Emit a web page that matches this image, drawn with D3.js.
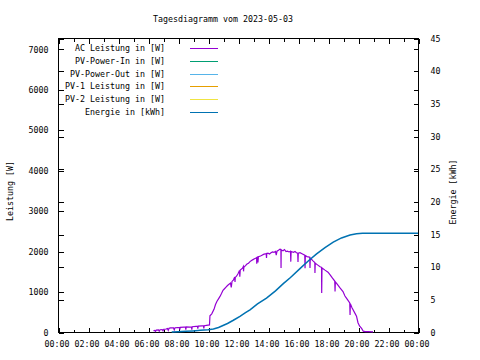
<!DOCTYPE html>
<html><head><meta charset="utf-8">
<script src="https://cdn.jsdelivr.net/npm/d3@7"></script>
<style>
html,body{margin:0;padding:0;background:#fff;}
svg text{font-family:"DejaVu Sans Mono","Liberation Mono",monospace;font-size:8.3px;fill:#000;}
</style></head>
<body><svg id="c" width="480" height="360"></svg>
<script>
const titleText = "Tagesdiagramm vom 2023-05-03";
const yTitle = "Leistung [W]";
const y2Title = "Energie [kWh]";
const xTickHours = [0,2,4,6,8,10,12,14,16,18,20,22,24];
const xTickLabels = ["00:00","02:00","04:00","06:00","08:00","10:00","12:00","14:00","16:00","18:00","20:00","22:00","00:00"];
const yTicks = [0,1000,2000,3000,4000,5000,6000,7000];
const y2Ticks = [0,5,10,15,20,25,30,35,40,45];
const seriesNames = ["AC Leistung in [W]","PV-Power-In in [W]","PV-Power-Out in [W]","PV-1 Leistung in [W]","PV-2 Leistung in [W]","Energie in [kWh]"];
const seriesColors = ["#9400d3","#009e73","#56b4e9","#e69f00","#f0e442","#0072b2"];

// AC power [hour, W]
const acData = [[6.36,30],[6.45,40],[6.5,15],[6.55,45],[6.7,50],[6.75,20],[6.8,55],[6.95,60],[7.0,30],[7.05,65],[7.2,75],[7.3,85],[7.35,40],[7.4,90],[7.5,100],[7.7,100],[7.75,55],[7.8,105],[8.0,110],[8.1,110],[8.12,60],[8.15,115],[8.4,120],[8.5,120],[8.52,55],[8.55,125],[8.8,120],[8.9,125],[8.92,60],[8.95,130],[9.2,140],[9.3,140],[9.32,80],[9.35,145],[9.6,150],[9.7,150],[9.72,90],[9.75,155],[9.9,165],[10.0,170],[10.1,175],[10.13,400],[10.25,450],[10.4,560],[10.5,680],[10.6,760],[10.7,820],[10.8,880],[10.9,950],[11.0,1030],[11.1,1070],[11.2,1110],[11.3,1150],[11.4,1180],[11.5,1210],[11.55,1100],[11.6,1250],[11.7,1290],[11.78,1360],[11.8,1240],[11.82,1350],[11.9,1380],[12.0,1440],[12.1,1520],[12.12,1370],[12.15,1530],[12.3,1580],[12.36,1620],[12.37,1500],[12.39,1600],[12.5,1640],[12.6,1680],[12.7,1700],[12.8,1740],[12.9,1770],[13.0,1790],[13.1,1810],[13.2,1830],[13.24,1840],[13.25,1690],[13.27,1840],[13.3,1850],[13.33,1720],[13.36,1860],[13.5,1880],[13.6,1900],[13.7,1920],[13.8,1930],[13.88,1940],[13.9,1830],[13.92,1940],[14.0,1950],[14.1,1930],[14.2,1960],[14.3,1980],[14.4,1970],[14.5,1990],[14.55,1900],[14.6,2000],[14.7,2020],[14.8,2050],[14.86,2040],[14.87,1580],[14.88,2030],[15.0,2010],[15.1,2040],[15.2,1990],[15.3,2000],[15.4,1980],[15.5,2000],[15.52,1740],[15.54,1990],[15.7,1970],[15.8,1990],[15.9,1960],[15.98,1950],[16.0,1730],[16.02,1950],[16.13,1960],[16.3,1930],[16.45,1900],[16.47,1575],[16.49,1890],[16.6,1865],[16.78,1850],[16.8,1580],[16.82,1830],[17.0,1760],[17.12,1720],[17.13,1460],[17.15,1700],[17.3,1660],[17.47,1615],[17.57,1600],[17.58,965],[17.6,1585],[17.8,1530],[18.0,1480],[18.13,1420],[18.3,1330],[18.45,1260],[18.47,1000],[18.49,1240],[18.6,1190],[18.8,1090],[19.0,1000],[19.13,890],[19.3,800],[19.45,720],[19.47,420],[19.49,700],[19.6,600],[19.8,460],[19.9,390],[20.0,230],[20.1,150],[20.24,90],[20.35,20],[20.47,10],[20.7,8],[21.0,5]];
const pvInData = [];
const pvOutData = [];
const pv1Data = [];
const pv2Data = [];
// Energy [hour, kWh]
const energyData = [[7.58,0],[8.0,0.05],[8.5,0.1],[9.0,0.17],[9.5,0.25],[10.0,0.33],[10.36,0.46],[10.7,0.7],[11.0,1.0],[11.3,1.3],[11.69,1.8],[12.13,2.4],[12.5,2.95],[12.8,3.4],[13.3,4.3],[13.9,5.2],[14.5,6.3],[15.02,7.4],[15.5,8.35],[16.13,9.7],[16.7,10.9],[17.24,11.95],[17.8,12.9],[18.35,13.75],[18.9,14.4],[19.47,14.85],[19.9,15.05],[20.3,15.1],[24.0,15.1]];

const L=58, R=418, T=38, B=332;
const svg = d3.select("#c");
const x = d3.scaleLinear().domain([0,24]).range([L,R]);
const y = d3.scaleLinear().domain([0,7270]).range([B,T]);
const y2 = d3.scaleLinear().domain([0,45]).range([B,T]);

function styleAxis(g){
  g.attr("font-family",null).attr("font-size",null);
  g.select(".domain").remove();
  g.selectAll("line").attr("stroke","#000").attr("shape-rendering","crispEdges");
}

// x axis bottom: major and minor
svg.append("g").attr("transform",`translate(0.5,${B+0.5})`)
  .call(d3.axisBottom(x).tickValues(xTickHours).tickSize(-5).tickPadding(9)
    .tickFormat((d,i)=>xTickLabels[i]))
  .call(styleAxis)
  .selectAll("text").attr("dx",-2);
svg.append("g").attr("transform",`translate(0.5,${B+0.5})`)
  .call(d3.axisBottom(x).tickValues(d3.range(1,24,2)).tickSize(-3).tickFormat(""))
  .call(styleAxis);
// mirrored top
svg.append("g").attr("transform",`translate(0.5,${T+0.5})`)
  .call(d3.axisTop(x).tickValues(xTickHours).tickSize(-5).tickFormat(""))
  .call(styleAxis);
svg.append("g").attr("transform",`translate(0.5,${T+0.5})`)
  .call(d3.axisTop(x).tickValues(d3.range(1,24,2)).tickSize(-3).tickFormat(""))
  .call(styleAxis);

// y left
svg.append("g").attr("transform",`translate(${L+0.5},0.5)`)
  .call(d3.axisLeft(y).tickValues(yTicks).tickSize(-5).tickPadding(10).tickFormat(d3.format("d")))
  .call(styleAxis);
// y mirrored at right
svg.append("g").attr("transform",`translate(${R+0.5},0.5)`)
  .call(d3.axisRight(y).tickValues(yTicks).tickSize(-5).tickFormat(""))
  .call(styleAxis);
// y2 right
svg.append("g").attr("transform",`translate(${R+0.5},0.5)`)
  .call(d3.axisRight(y2).tickValues(y2Ticks).tickSize(-5).tickPadding(12).tickFormat(d3.format("d")))
  .call(styleAxis);
// y2 mirrored at left
svg.append("g").attr("transform",`translate(${L+0.5},0.5)`)
  .call(d3.axisLeft(y2).tickValues(y2Ticks).tickSize(-5).tickFormat(""))
  .call(styleAxis);

// frame
svg.append("rect").attr("x",L+0.5).attr("y",T+0.5).attr("width",R-L).attr("height",B-T)
  .attr("fill","none").attr("stroke","#000").attr("shape-rendering","crispEdges");

// titles
svg.append("text").attr("x",223).attr("y",22).attr("text-anchor","middle").text(titleText);
svg.append("text").attr("transform","translate(13,191) rotate(-90)").attr("text-anchor","middle").text(yTitle);
svg.append("text").attr("transform","translate(456,192) rotate(-90)").attr("text-anchor","middle").text(y2Title);

// data lines
const lineW = d3.line().x(d=>x(d[0])).y(d=>y(d[1]));
const lineE = d3.line().x(d=>x(d[0])).y(d=>y2(d[1]));
const wSeries = [acData,pvInData,pvOutData,pv1Data,pv2Data];
wSeries.forEach((s,i)=>{
  if(s.length) svg.append("path").datum(s).attr("d",lineW).attr("fill","none")
    .attr("stroke",seriesColors[i]).attr("stroke-width",1.2).attr("stroke-linejoin","miter");
});
svg.append("path").datum(energyData).attr("d",lineE).attr("fill","none")
  .attr("stroke",seriesColors[5]).attr("stroke-width",1.5);

// legend
const lg = svg.append("g");
seriesNames.forEach((n,i)=>{
  const yy = 48 + i*12.8;
  lg.append("text").attr("x",165).attr("y",yy+3).attr("text-anchor","end").text(n);
  lg.append("line").attr("x1",190).attr("x2",218).attr("y1",Math.round(yy)+0.5).attr("y2",Math.round(yy)+0.5)
    .attr("stroke",seriesColors[i]).attr("stroke-width",1).attr("shape-rendering","crispEdges");
});
</script></body></html>
